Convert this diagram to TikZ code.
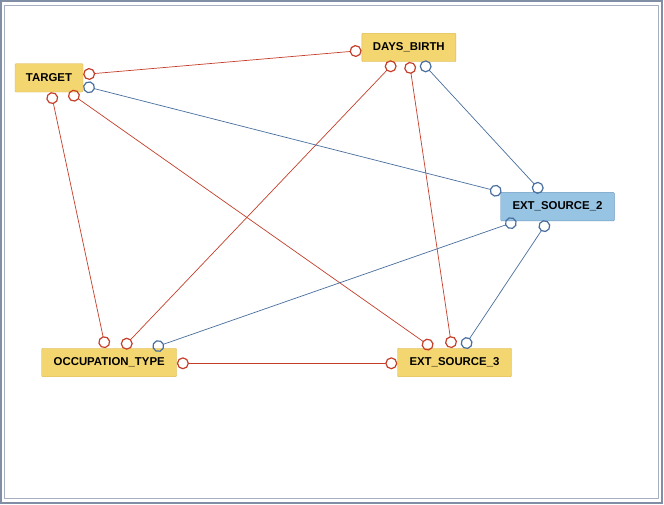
\documentclass[tikz,border=0pt]{standalone}
\usepackage{fontspec}
\setmainfont{Liberation Sans}
\usetikzlibrary{arrows.meta,calc}
\definecolor{edgered}{RGB}{196,62,42}
\definecolor{edgeblue}{RGB}{72,110,158}
\definecolor{varfill}{RGB}{244,214,112}
\definecolor{vardraw}{RGB}{215,182,90}
\definecolor{tgtfill}{RGB}{150,196,226}
\definecolor{tgtdraw}{RGB}{112,154,194}
\definecolor{framecol}{RGB}{128,142,166}
\tikzset{
  var/.style={draw=vardraw,fill=varfill,rounded corners=1pt,inner sep=0pt,
    minimum height=28.5pt,font=\fontsize{11.4}{12}\selectfont\bfseries},
  hub/.style={var,draw=tgtdraw,fill=tgtfill},
  redlink/.style={edgered,line width=0.7pt,
    {Circle[open,length=12pt,line width=1.2pt]}-{Circle[open,length=12pt,line width=1.2pt]}},
  bluelink/.style={redlink,edgeblue}
}
\begin{document}
\begin{tikzpicture}[x=1pt,y=-1pt]
\useasboundingbox (0,0) rectangle (664,505);
\fill[white] (0,0) rectangle (664,505);
\draw[framecol,line width=1.2pt] (1,1) rectangle (662,503);
\draw[framecol!70,line width=1pt] (4,6) rectangle (658,498);
\node[var,minimum width=68pt] (tgt) at (49,77.8) {TARGET};
\node[var,minimum width=94pt] (db) at (408.8,47.5) {DAYS\_BIRTH};
\node[hub,minimum width=113.6pt] (es2) at (557.5,206.7) {EXT\_SOURCE\_2};
\node[var,minimum width=135pt] (ot) at (109.2,362.5) {OCCUPATION\_TYPE};
\node[var,minimum width=114pt] (es3) at (454.5,362.5) {EXT\_SOURCE\_3};
% red links
\draw[redlink] ([yshift=3.3]tgt.east) -- ([yshift=-3]db.west);
\draw[redlink] ([xshift=2]tgt.south) -- ([xshift=-3.7]ot.north);
\draw[redlink] ([xshift=20]tgt.south) -- ([xshift=-22]es3.north);
\draw[redlink] ([xshift=-14]db.south) -- ([xshift=13.4]ot.north);
\draw[redlink] ([xshift=0.5]db.south) -- ([xshift=-2.6]es3.north);
\draw[redlink] ([yshift=-0.8]ot.east) -- ([yshift=-0.8]es3.west);
% blue links
\draw[bluelink] ([yshift=-8]tgt.east) -- ([xshift=1]es2.north west);
\draw[bluelink] ([xshift=12.8]db.south) -- ([xshift=-15.7]es2.north);
\draw[bluelink] ([xshift=43.4]ot.north) -- ([xshift=-41]es2.south);
\draw[bluelink] ([xshift=8.8]es3.north) -- ([xshift=-9.8]es2.south);
\end{tikzpicture}
\end{document}
